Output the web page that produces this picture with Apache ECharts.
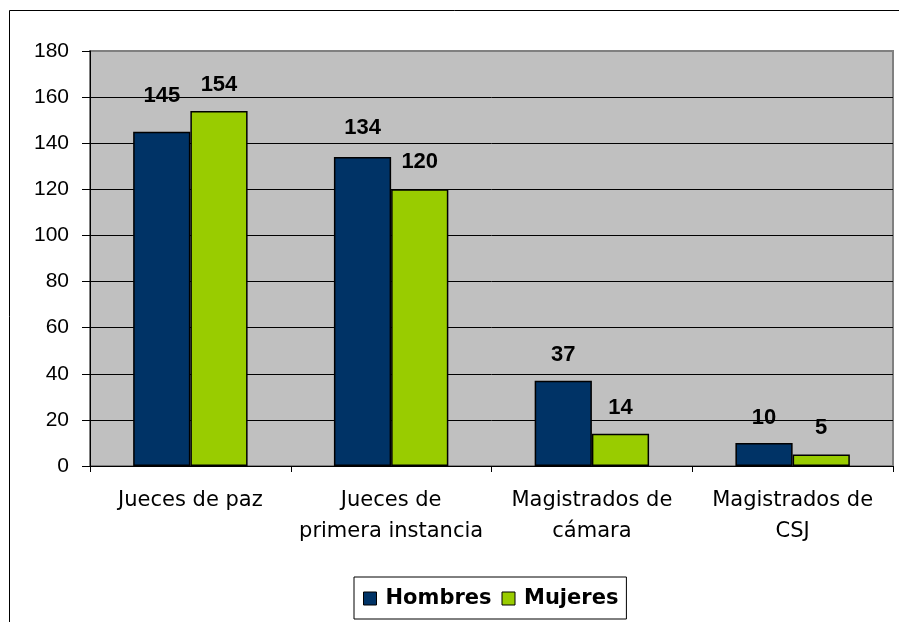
<!DOCTYPE html>
<html>
<head>
<meta charset="utf-8">
<script src="https://cdn.jsdelivr.net/npm/echarts@6/dist/echarts.min.js"></script>
<style>
  html, body { margin: 0; padding: 0; background: #fff; }
  #main { width: 899px; height: 622px; }
</style>
</head>
<body>
<div id="main"></div>
<script>
var categories = ['Jueces de paz', 'Jueces de\nprimera instancia', 'Magistrados de\ncámara', 'Magistrados de\nCSJ'];
var hombres = [145, 134, 37, 10];
var mujeres = [154, 120, 14, 5];
var yTicks = { min: 0, max: 180, interval: 20 };

// label gap above each bar (Excel placed some a bit higher)
var hombresLabelGap = [25, 18, 15, 14];
var mujeresLabelGap = [15, 16, 15, 16];

var font = 'Arial, "Liberation Sans", sans-serif';
var wideFont = '"DejaVu Sans", Verdana, sans-serif';

function withLabels(values, gaps) {
  return values.map(function (v, i) {
    return { value: v, label: { distance: gaps[i] } };
  });
}

var chartDom = document.getElementById('main');
var myChart = echarts.init(chartDom);

var option = {
  backgroundColor: '#ffffff',
  animation: false,
  graphic: [{
    type: 'rect',
    shape: { x: 9.5, y: 10.5, width: 1000, height: 1000 },
    style: { fill: 'none', stroke: '#000', lineWidth: 1 },
    silent: true,
    z: -1
  }],
  grid: {
    left: 90, top: 51, right: 6, bottom: 156,
    show: true,
    backgroundColor: '#c0c0c0',
    borderColor: '#808080',
    borderWidth: 2
  },
  legend: {
    left: 354,
    top: 577,
    padding: [11, 8, 10, 9],
    backgroundColor: '#fff',
    borderColor: '#000',
    borderWidth: 1,
    itemWidth: 13,
    itemHeight: 13,
    itemGap: 10,
    icon: 'rect',
    itemStyle: { borderColor: '#000', borderWidth: 1 },
    textStyle: {
      fontFamily: wideFont, fontSize: 21, fontWeight: 'bold', color: '#000',
      padding: [0, 0, 0, 4]
    },
    data: ['Hombres', 'Mujeres']
  },
  xAxis: {
    type: 'category',
    data: categories,
    axisLine: { lineStyle: { color: '#000', width: 1 } },
    axisTick: { show: true, length: 6, lineStyle: { color: '#000' } },
    axisLabel: {
      fontFamily: wideFont, fontSize: 21, color: '#000',
      lineHeight: 31, margin: 19, interval: 0
    },
    splitLine: { show: false }
  },
  yAxis: {
    type: 'value',
    min: yTicks.min, max: yTicks.max, interval: yTicks.interval,
    axisLine: { show: true, lineStyle: { color: '#000', width: 1 } },
    axisTick: { show: true, length: 8, lineStyle: { color: '#000' } },
    axisLabel: { fontFamily: font, fontSize: 21, color: '#000', margin: 21 },
    splitLine: { show: true, showMaxLine: false, lineStyle: { color: '#000', width: 1 } }
  },
  series: [{
    name: 'Hombres',
    type: 'bar',
    data: withLabels(hombres, hombresLabelGap),
    barGap: '0%',
    barCategoryGap: '43%',
    itemStyle: { color: '#003366', borderColor: '#000', borderWidth: 1.5 },
    label: {
      show: true, position: 'top',
      fontFamily: font, fontSize: 22, fontWeight: 'bold', color: '#000'
    }
  }, {
    name: 'Mujeres',
    type: 'bar',
    data: withLabels(mujeres, mujeresLabelGap),
    itemStyle: { color: '#99cc00', borderColor: '#000', borderWidth: 1.5 },
    label: {
      show: true, position: 'top',
      fontFamily: font, fontSize: 22, fontWeight: 'bold', color: '#000'
    }
  }]
};

option && myChart.setOption(option);
</script>
</body>
</html>
